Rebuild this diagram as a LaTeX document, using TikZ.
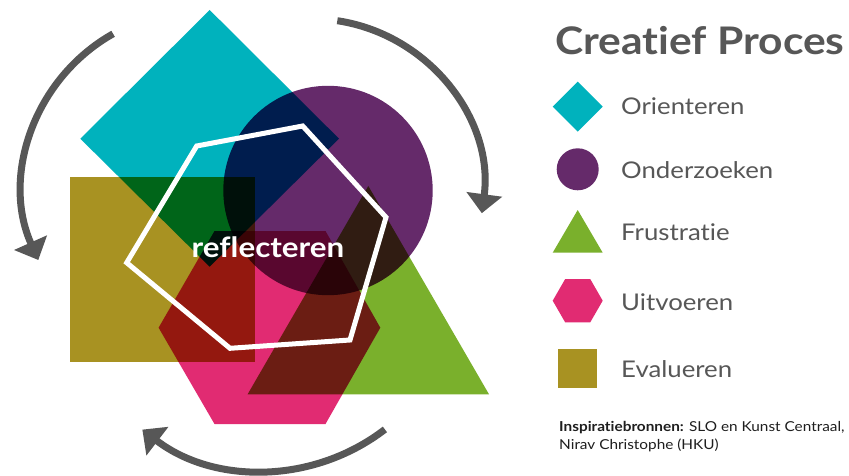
\documentclass[tikz,border=0pt]{standalone}
\usepackage{fontspec}
\setmainfont{Lato}[FakeStretch=1.12, Ligatures=NoCommon]
\usetikzlibrary{arrows.meta}
\definecolor{cteal}{HTML}{00B2BD}
\definecolor{cpurple}{HTML}{652A6A}
\definecolor{cgreen}{HTML}{7AB02C}
\definecolor{cpink}{HTML}{E12B72}
\definecolor{colive}{HTML}{A89222}
\definecolor{cgray}{HTML}{575757}
\definecolor{ctext}{HTML}{1E1E1E}
\begin{document}
\begin{tikzpicture}[x=1pt,y=-1pt,
  cyc/.style={draw=cgray, line width=7pt, -{Triangle[width=35pt,length=19pt]}},
  lbl/.style={anchor=base west, inner sep=0pt, text=cgray, font=\fontsize{23}{23}\selectfont},
  credit/.style={anchor=base west, inner sep=0pt, text=ctext, font=\fontsize{13.7}{13.7}\selectfont}]
\useasboundingbox (0,0) rectangle (849,476);
\fill[white] (0,0) rectangle (849,476);
% overlapping shapes
\begin{scope}[blend mode=multiply]
\fill[cteal] (209.7,10) -- (339,138.7) -- (209.7,266.7) -- (80.3,138.7) -- cycle;
\fill[cpurple] (328,190.5) circle[radius=104.7];
\fill[cgreen] (368.3,186) -- (489,394.3) -- (247.6,394.3) -- cycle;
\fill[cpink] (214.5,231) -- (325.5,231) -- (380.3,327.7) -- (325.5,424) -- (214.5,424) -- (158.6,327.7) -- cycle;
\fill[colive] (70,177) rectangle (255.2,361.7);
\end{scope}
% reflect hexagon
\draw[white, line width=5pt, line join=miter] (196.7,146) -- (302.7,126) -- (386,217.3) -- (350,340) -- (230,348.3) -- (126.7,262.7) -- cycle;
\node[anchor=base, inner sep=0pt, text=white, font=\bfseries\fontsize{28}{28}\selectfont] (refl) at (268,257.3) {reflecteren};
% cycle arrows
\coordinate (a1) at (113.1,33.8);
\coordinate (a2) at (337.3,20.7);
\coordinate (a3) at (384.9,429.4);
\draw[cyc] (a1) arc[start angle=-119.4, end angle=-204, radius=177];
\draw[cyc] (a2) arc[start angle=-81.4, end angle=7.6, radius=171.7];
\draw[cyc] (a3) arc[start angle=52.4, end angle=127.5, radius=199];
% legend
\node[anchor=base west, inner sep=0pt, text=cgray, font=\bfseries\fontsize{38}{38}\selectfont] (title) at (555,55) {Creatief Proces};
\fill[cteal] (577.7,81.7) -- (602.7,106.7) -- (577.7,131.7) -- (552.7,106.7) -- cycle;
\fill[cpurple] (577.7,169.3) circle[radius=21];
\fill[cgreen] (577.7,210) -- (602.7,252.7) -- (552.7,252.7) -- cycle;
\fill[cpink] (602.7,300.7) -- (590.2,322.4) -- (565.2,322.4) -- (552.7,300.7) -- (565.2,279) -- (590.2,279) -- cycle;
\fill[colive] (557.7,349.3) rectangle (596.7,388.3);
\node[lbl] (l1) at (621,115) {Orienteren};
\node[lbl] (l2) at (621,178.3) {Onderzoeken};
\node[lbl] (l3) at (621,240) {Frustratie};
\node[lbl] (l4) at (621,310) {Uitvoeren};
\node[lbl] (l5) at (621,377.3) {Evalueren};
\node[credit] (c1) at (559,431.7) {\textbf{Inspiratiebronnen:} SLO en Kunst Centraal,};
\node[credit] (c2) at (559,449) {Nirav Christophe (HKU)};
\end{tikzpicture}
\end{document}
